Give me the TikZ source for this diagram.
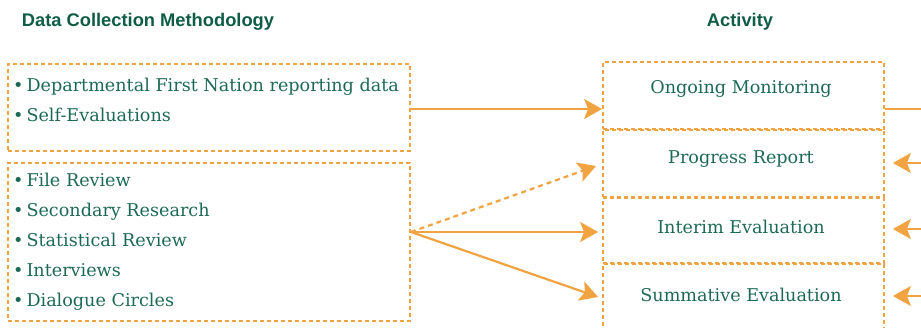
\documentclass[tikz,border=0pt]{standalone}
\usepackage{fontspec}
\setmainfont{DejaVu Serif}
\newfontfamily\headfont{Liberation Sans}
\usetikzlibrary{arrows.meta}
\definecolor{orng}{HTML}{F2A341}
\definecolor{txtg}{HTML}{1C6A55}
\definecolor{headg}{HTML}{0F5D46}
\tikzset{
  dbox/.style={draw=orng, line width=1.8pt, dash pattern=on 4pt off 3pt, inner sep=0pt},
  item/.style={anchor=base west, inner sep=0pt, text=txtg, font=\fontsize{17.6}{20}\selectfont},
  act/.style={anchor=base, inner sep=0pt, text=txtg, font=\fontsize{17.6}{20}\selectfont},
  head/.style={anchor=base, inner sep=0pt, text=headg, font=\headfont\bfseries\fontsize{18.3}{21}\selectfont},
  conn/.style={draw=orng, line width=2.2pt, -{Stealth[length=18pt,width=20pt,inset=4pt]}},
  plain/.style={draw=orng, line width=2.2pt},
}
\begin{document}
\begin{tikzpicture}[x=1pt,y=-1pt]
\useasboundingbox (0,0) rectangle (921,328);
% headers
\node[head] (h1) at (148,27) {Data Collection Methodology};
\node[head] (h2) at (740,27) {Activity};
% left boxes
\node[dbox, minimum width=402pt, minimum height=87pt] (l1) at (209,107.5) {};
\node[dbox, minimum width=402pt, minimum height=158pt] (l2) at (209,242) {};
\node[item] (i1) at (13,92) {\textbullet\,Departmental First Nation reporting data};
\node[item] (i2) at (13,122) {\textbullet\,Self-Evaluations};
\node[item] (i3) at (13,187) {\textbullet\,File Review};
\node[item] (i4) at (13,217) {\textbullet\,Secondary Research};
\node[item] (i5) at (13,247) {\textbullet\,Statistical Review};
\node[item] (i6) at (13,277) {\textbullet\,Interviews};
\node[item] (i7) at (13,307) {\textbullet\,Dialogue Circles};
% right boxes
\node[dbox, minimum width=281pt, minimum height=67pt] (a1) at (743.5,95.5) {};
\node[dbox, minimum width=281pt, minimum height=67pt] (a2) at (743.5,163.5) {};
\node[dbox, minimum width=281pt, minimum height=65pt] (a3) at (743.5,230.5) {};
\node[dbox, minimum width=281pt, minimum height=80pt] (a4) at (743.5,304) {};
\node[act] (t1) at (741,94) {Ongoing Monitoring};
\node[act] (t2) at (741,164) {Progress Report};
\node[act] (t3) at (741,234) {Interim Evaluation};
\node[act] (t4) at (741,302) {Summative Evaluation};
% connector ends
\coordinate (s2) at (411,232);
\coordinate (r1) at (921,109);
\coordinate (r2) at (921,163);
\coordinate (r3) at (921,229);
\coordinate (r4) at (921,296);
% connectors
\draw[conn] (l1.east |- 0,109) -- (a1.west |- 0,109);
\draw[conn, dash pattern=on 5pt off 4pt] (s2) -- ([xshift=-6pt]a2.west |- 0,166);
\draw[conn] (s2) -- ([xshift=-4pt]a3.west |- 0,232);
\draw[conn] (s2) -- ([xshift=-4pt]a4.west |- 0,297);
\draw[plain] (a1.east |- 0,109) -- (r1);
\draw[conn] (r2) -- ([xshift=8pt]a2.east |- 0,163);
\draw[conn] (r3) -- ([xshift=8pt]a3.east |- 0,229);
\draw[conn] (r4) -- ([xshift=8pt]a4.east |- 0,296);
\end{tikzpicture}
\end{document}
